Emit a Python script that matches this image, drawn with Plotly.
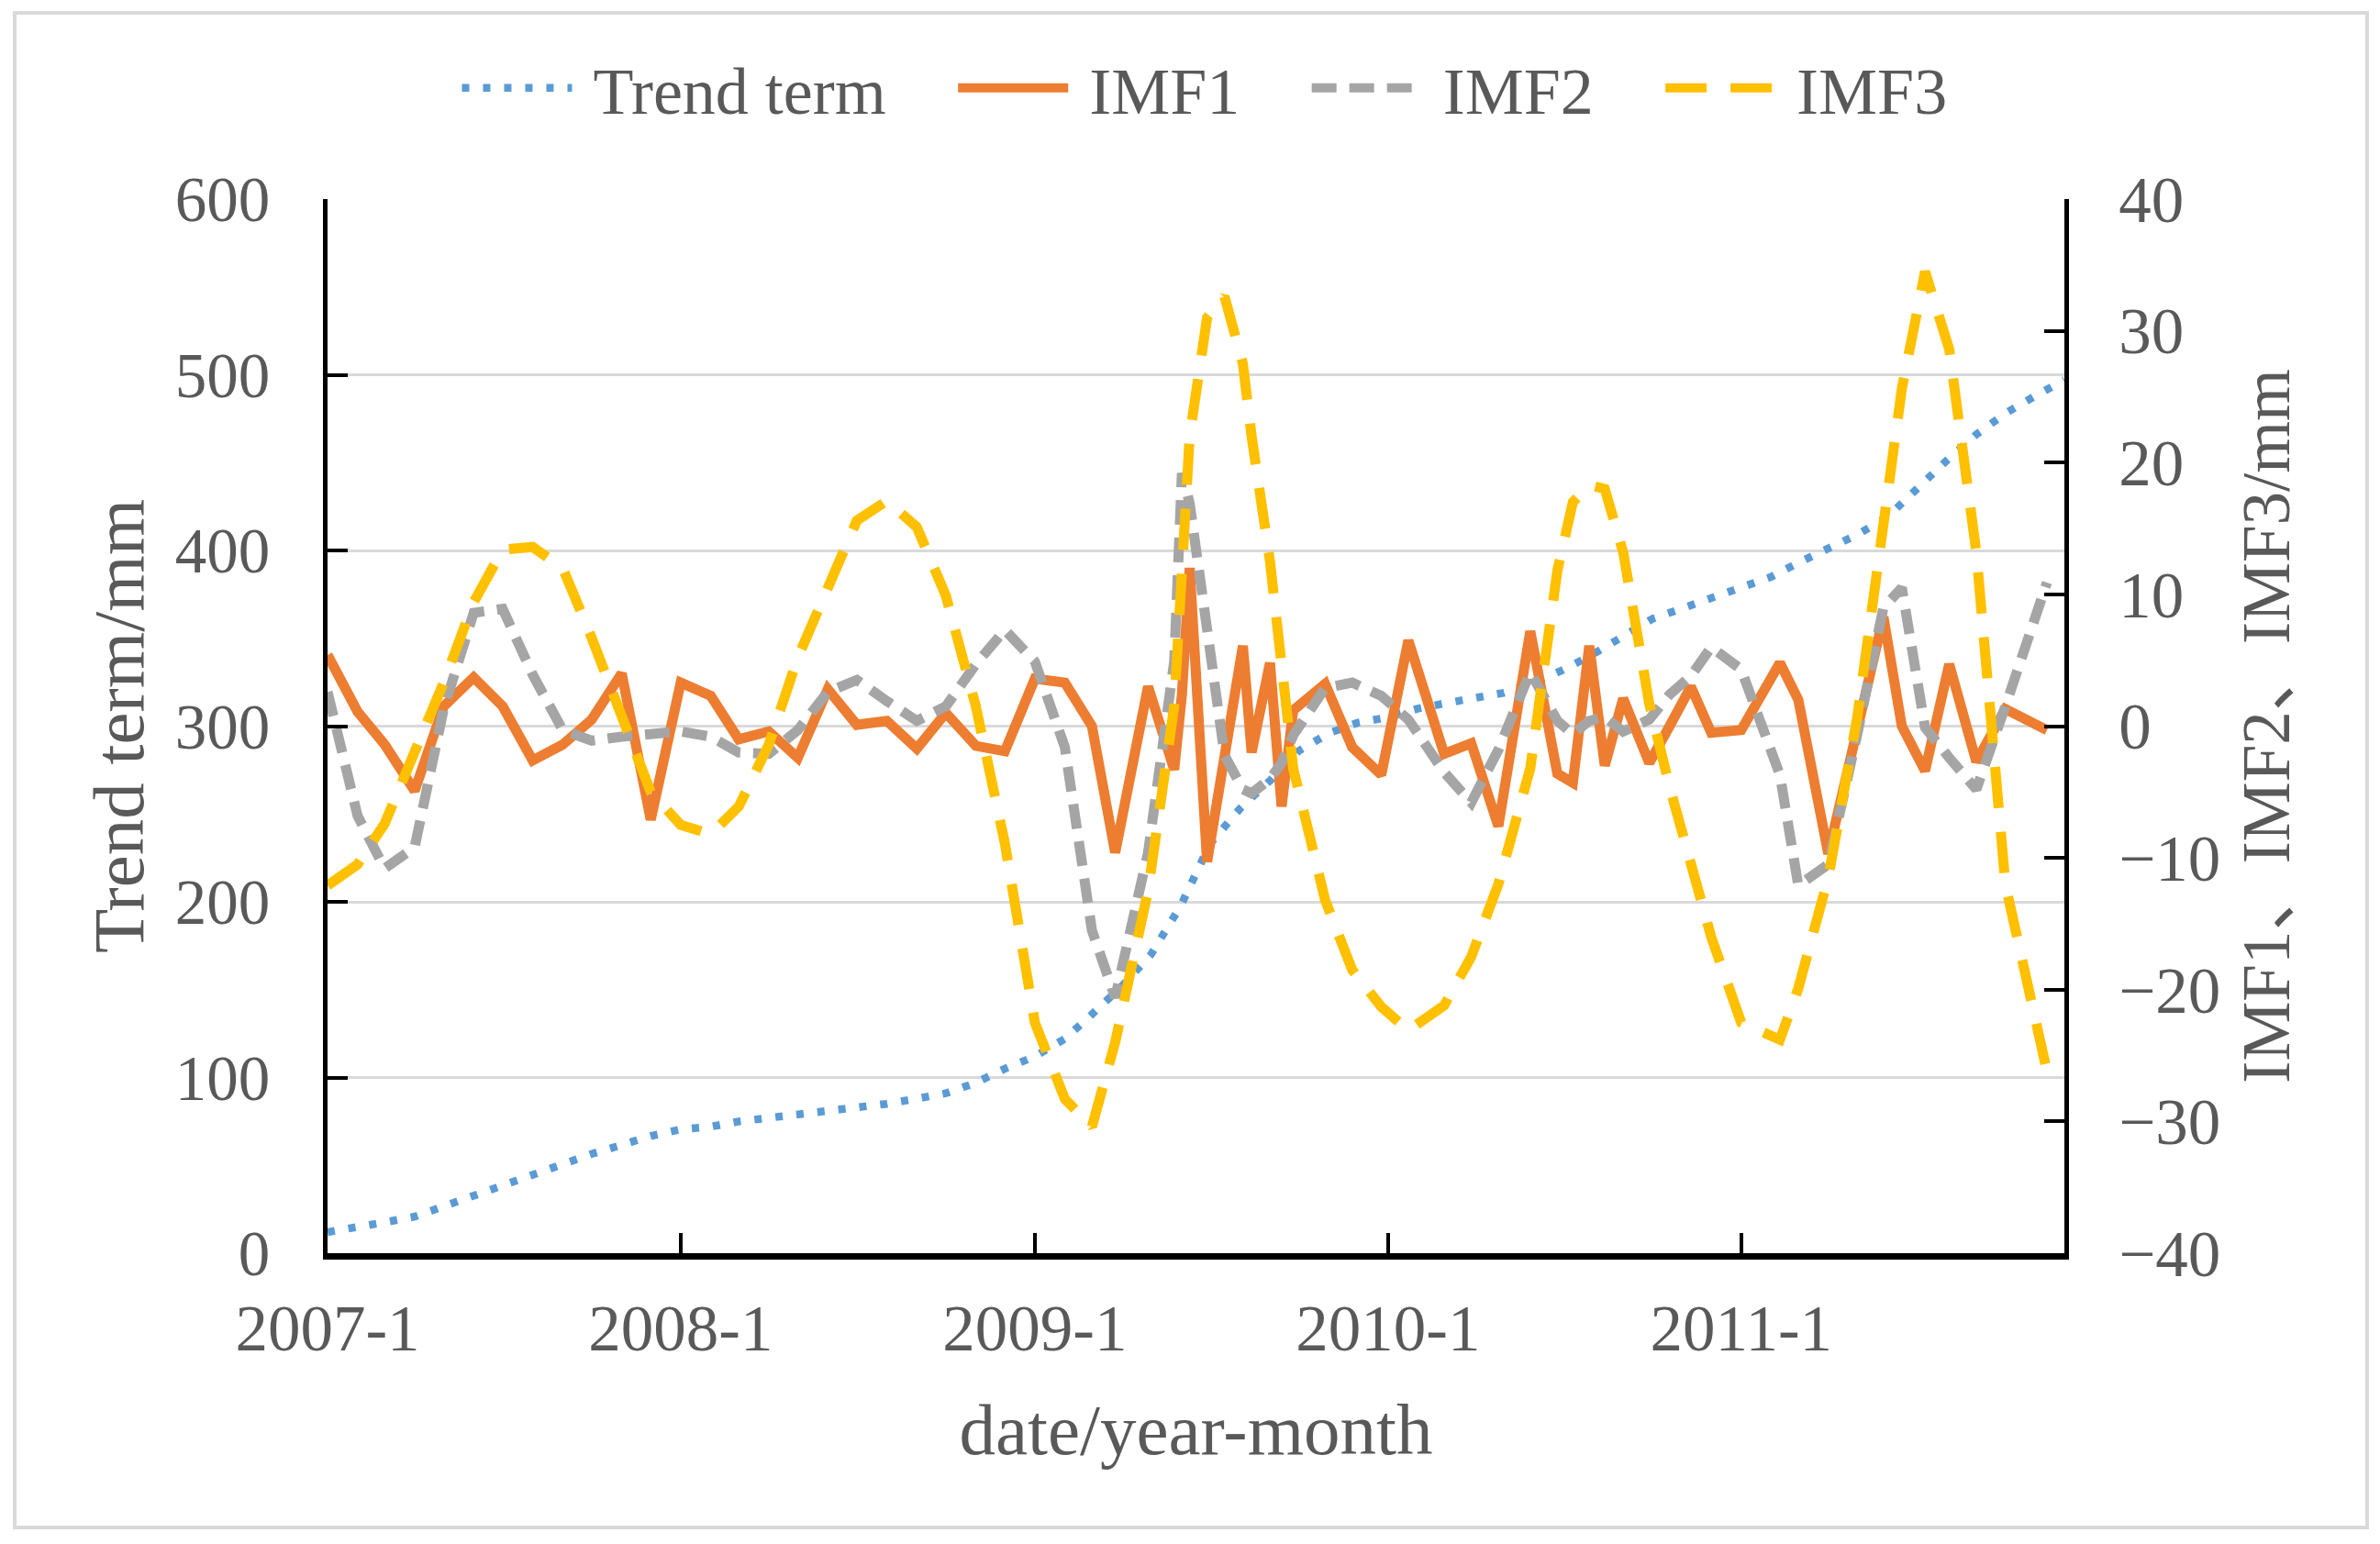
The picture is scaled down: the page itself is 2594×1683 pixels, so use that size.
import plotly.graph_objects as go

# ---------------- data ----------------
trend_dates = [f"{y}-{m:02d}-01" for y in range(2007, 2012) for m in range(1, 13)]
trend_values = [12, 14.5, 17.6, 20.8, 26.7, 33, 38, 44, 50, 56.5, 61.6, 66.7,
                70.5, 72, 75, 77, 79, 80, 83, 85, 88, 91, 97, 105,
                112, 122, 136, 152, 170, 198, 233, 253, 269, 286, 296, 302,
                305, 310, 313, 316.5, 319, 325, 332, 341, 351, 361, 367, 372.5,
                379, 385, 393, 401, 409, 419, 435, 451, 466, 478, 488, 497]

imf_dates = ["2007-01-01", "2007-02-01", "2007-03-01", "2007-04-01", "2007-05-01", "2007-06-01",
             "2007-07-01", "2007-08-01", "2007-09-01", "2007-10-01", "2007-11-01", "2007-12-01",
             "2008-01-01", "2008-02-01", "2008-03-01", "2008-04-01", "2008-05-01", "2008-06-01",
             "2008-07-01", "2008-08-01", "2008-09-01", "2008-10-01", "2008-11-01", "2008-12-01",
             "2009-01-01", "2009-02-01", "2009-03-01", "2009-03-25", "2009-04-28", "2009-05-25",
             "2009-06-02", "2009-06-10", "2009-06-28", "2009-07-16", "2009-08-04", "2009-08-13",
             "2009-09-01", "2009-09-13", "2009-09-25", "2009-10-28", "2009-11-25", "2009-12-25",
             "2010-01-22", "2010-02-28", "2010-03-28", "2010-04-25", "2010-05-28", "2010-06-25",
             "2010-07-11", "2010-07-28", "2010-08-13", "2010-09-01", "2010-09-28", "2010-10-19",
             "2010-11-10", "2010-12-01", "2011-01-01", "2011-02-10", "2011-03-01", "2011-04-01",
             "2011-05-01", "2011-05-28", "2011-06-16", "2011-07-10", "2011-08-04", "2011-09-01",
             "2011-10-01", "2011-11-13"]

imf1_values = [5.4, 1.1, -1.4, -4.9, 1.5, 3.7, 1.5, -2.6, -1.4, 0.5, 4.0, -7.1,
               3.3, 2.3, -1.0, -0.4, -2.4, 2.8, 0.1, 0.4, -1.7, 1.0, -1.5, -1.9,
               3.6, 3.3, 0.0, -9.6, 3.0, -3.3, 2.4, 12.0, -10.3, -2.1, 6.1, -2.0,
               4.8, -6.1, 1.2, 3.2, -1.6, -3.7, 6.5, -2.1, -1.3, -7.6, 7.2, -3.6,
               -4.3, 6.1, -3.0, 2.1, -2.8, 0.0, 3.0, -0.5, -0.3, 4.8, 2.0, -9.7,
               -0.2, 8.3, 0.0, -3.4, 4.7, -2.7, 1.3, -0.3]

imf2_values = [2.6, -6.8, -10.8, -9.2, 1.3, 8.6, 8.9, 3.9, -0.3, -1.1, -0.8, -0.6,
               -0.4, -0.8, -2.0, -2.1, -0.3, 2.6, 3.5, 1.9, 0.4, 1.5, 4.7, 7.3,
               4.9, -1.6, -15.5, -20.6, -9.6, 4.9, 19.2, 16.9, 7.5, -2.2, -4.8, -5.1,
               -4.0, -2.8, -0.7, 2.9, 3.3, 2.3, 0.5, -3.5, -5.8, -1.8, 4.1, 0.4,
               -0.6, 0.4, 0.7, -0.4, 0.5, 2.4, 3.8, 6.0, 4.3, -3.7, -12.1, -10.5,
               -0.6, 9.0, 10.5, -0.1, -2.4, -4.8, 1.5, 10.9]

imf3_values = [-12.1, -10.5, -7.4, -2.1, 3.3, 9.4, 13.4, 13.6, 12.0, 6.7, 0.5, -5.0,
               -7.5, -8.2, -6.1, -1.4, 5.2, 10.4, 15.6, 17.1, 15.1, 9.9, 1.5, -8.9,
               -22.5, -28.3, -30.4, -24.0, -12.5, 1.5, 12.0, 22.0, 31.0, 32.6, 27.5, 22.0,
               12.5, 4.5, -3.2, -13.2, -18.5, -21.3, -23.1, -21.2, -17.5, -12.0, -3.2, 11.8,
               17.0, 18.3, 18.0, 13.2, 1.7, -4.6, -10.3, -16.0, -22.5, -23.8, -19.9, -11.5,
               0.7, 15.6, 25.6, 34.5, 28.6, 13.2, -12.0, -26.2]

series_names = ["Trend term", "IMF1", "IMF2", "IMF3"]
x_tick_dates = ["2007-01-01", "2008-01-01", "2009-01-01", "2010-01-01", "2011-01-01"]
x_tick_labels = ["2007-1", "2008-1", "2009-1", "2010-1", "2011-1"]
left_ticks = [0, 100, 200, 300, 400, 500, 600]
right_ticks = [-40, -30, -20, -10, 0, 10, 20, 30, 40]
right_tick_labels = ["\u221240", "\u221230", "\u221220", "\u221210", "0", "10", "20", "30", "40"]

# ---------------- figure ----------------
FONT = "Liberation Serif, Noto Sans CJK SC, serif"
TXT = "#595959"
NB = "\u00a0"
GAP = NB * 3 + "\u2009"


def legend_label(name, last=False):
    return NB + name + ("" if last else GAP)


fig = go.Figure()
fig.add_trace(go.Scatter(x=trend_dates, y=trend_values, name=legend_label(series_names[0]),
                         mode="lines", line=dict(color="#5B9BD5", width=8.5, dash="8px,15px"),
                         yaxis="y"))
fig.add_trace(go.Scatter(x=imf_dates, y=imf1_values, name=legend_label(series_names[1]),
                         mode="lines", line=dict(color="#ED7D31", width=11), yaxis="y2"))
fig.add_trace(go.Scatter(x=imf_dates, y=imf2_values, name=legend_label(series_names[2]),
                         mode="lines", line=dict(color="#A5A5A5", width=11, dash="27px,14px"),
                         yaxis="y2"))
fig.add_trace(go.Scatter(x=imf_dates, y=imf3_values, name=legend_label(series_names[3], True),
                         mode="lines", line=dict(color="#FFC000", width=11, dash="45px,26px"),
                         yaxis="y2"))

L, R, T, B = 357, 344, 217, 317
W, H = 2594, 1683
pw = W - L - R
ph = H - T - B

fig.update_layout(
    width=W, height=H,
    margin=dict(l=L, r=R, t=T, b=B, pad=0, autoexpand=False),
    paper_bgcolor="white", plot_bgcolor="white",
    font=dict(family=FONT, size=68, color=TXT),
    showlegend=True,
    hovermode=False,
    legend=dict(orientation="h", x=0.505, xanchor="center", y=(H - B - 96) / ph, yanchor="middle",
                font=dict(size=72, color=TXT), bgcolor="rgba(0,0,0,0)", itemwidth=120,
                traceorder="normal"),
    xaxis=dict(type="date", range=[trend_dates[0], trend_dates[-1]],
               tickvals=x_tick_dates, ticktext=x_tick_labels,
               ticks="inside", ticklen=22, tickwidth=4, tickcolor="black",
               showline=True, linecolor="black", linewidth=7, mirror=False,
               showgrid=False, zeroline=False, automargin=False,
               ticklabelstandoff=14,
               tickfont=dict(size=71, color=TXT),
               title=dict(text="date/year-month", font=dict(size=79, color=TXT), standoff=46)),
    yaxis=dict(range=[0, 600], tickvals=left_ticks,
               ticks="inside", ticklen=22, tickwidth=4, tickcolor="black",
               showline=True, linecolor="black", linewidth=5,
               showgrid=True, gridcolor="#D9D9D9", gridwidth=3, zeroline=False,
               automargin=False, ticklabelstandoff=44,
               tickfont=dict(size=69, color=TXT),
               title=dict(text="Trend term/mm", font=dict(size=79, color=TXT), standoff=10)),
    yaxis2=dict(range=[-40, 40], tickvals=right_ticks, ticktext=right_tick_labels,
                overlaying="y", side="right",
                ticks="inside", ticklen=22, tickwidth=4, tickcolor="black",
                showline=True, linecolor="black", linewidth=5,
                showgrid=False, zeroline=False, automargin=False, ticklabelstandoff=40,
                tickfont=dict(size=71, color=TXT),
                title=dict(text="IMF1\u3001IMF2\u3001IMF3/mm", font=dict(size=73, color=TXT), standoff=26)),
)

# outer light-grey frame of the chart area
fig.add_shape(type="rect", xref="paper", yref="paper",
              x0=(16 - L) / pw, x1=(2580 - L) / pw,
              y0=(H - B - 1665) / ph, y1=(H - B - 14) / ph,
              line=dict(color="#D9D9D9", width=4), fillcolor="rgba(0,0,0,0)", layer="below")

fig.write_html("out.html", config={"displayModeBar": False, "staticPlot": True},
               post_script="document.body.style.margin='0';")
